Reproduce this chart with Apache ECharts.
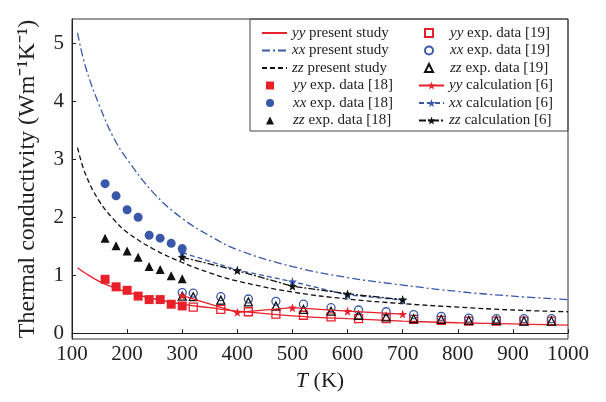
<!DOCTYPE html>
<html>
<head>
<meta charset="utf-8">
<script src="https://cdn.jsdelivr.net/npm/echarts@6/dist/echarts.min.js"></script>
<style>html,body{margin:0;padding:0;background:#fff}#c{width:606px;height:402px}</style>
</head>
<body>
<div id="c"></div>
<script>
// ---- data ----
const presentT = [110,125,150,175,200,250,300,350,400,500,600,700,800,900,1000];
const yyPresent = [1.13,1.03,0.89,0.79,0.71,0.59,0.50,0.44,0.38,0.30,0.25,0.21,0.18,0.16,0.14];
const xxPresent = [5.18,4.58,3.92,3.38,3.00,2.40,1.98,1.68,1.44,1.15,0.96,0.83,0.72,0.64,0.58];
const zzPresent = [3.20,2.73,2.27,1.97,1.74,1.44,1.22,1.04,0.90,0.71,0.59,0.51,0.45,0.40,0.37];

const exp18T = [160,180,200,220,240,260,280,300];
const yyExp18 = [0.93,0.80,0.74,0.64,0.58,0.58,0.50,0.47];
const xxExp18 = [2.58,2.37,2.13,2.00,1.69,1.64,1.55,1.46];
const zzExp18 = [1.64,1.51,1.42,1.31,1.15,1.10,0.99,0.94];

const exp19T = [300,320,370,420,470,520,570,620,670,720,770,820,870,920,970];
const yyExp19T = [320,370,420,470,520,570,620,670,720,770,820,870,920,970];
const yyExp19 = [0.45,0.41,0.37,0.33,0.31,0.28,0.25,0.25,0.24,0.22,0.21,0.21,0.21,0.21];
const xxExp19 = [0.70,0.69,0.63,0.59,0.55,0.50,0.44,0.40,0.37,0.32,0.29,0.26,0.25,0.25,0.25];
const zzExp19 = [0.64,0.63,0.57,0.54,0.47,0.41,0.38,0.31,0.28,0.25,0.24,0.22,0.22,0.21,0.21];

const calcT = [300,400,500,600,700];
const yyCalc = [0.65,0.36,0.44,0.38,0.33];
const xxCalc = [1.39,1.09,0.89,0.66,0.57];
const zzCalc = [1.31,1.08,0.81,0.68,0.58];

const xTicks = [100,200,300,400,500,600,700,800,900,1000];
const yTicks = [0,1,2,3,4,5];

// ---- styling ----
const RED = '#e8202a', BLUE = '#3a58aa', BLACK = '#111';
const FONT = 'Liberation Serif';
const STAR = 'path://M0,-10L2.35,-3.24L9.51,-3.09L3.8,1.24L5.88,8.09L0,4L-5.88,8.09L-3.8,1.24L-9.51,-3.09L-2.35,-3.24Z';
const pairs = (xs, ys) => xs.map((x, i) => [x, ys[i]]);

function lineSeries(name, xs, ys, color, type, z) {
  return { name, type: 'line', data: pairs(xs, ys), smooth: 0.4, symbol: 'none', z: z || 2,
    lineStyle: { color, width: 1.3, type }, itemStyle: { color } };
}
function scatterSeries(name, xs, ys, symbol, size, color, hollow, z) {
  return { name, type: 'scatter', data: pairs(xs, ys), symbol, symbolSize: size, z: z || 3,
    itemStyle: hollow ? { color: 'rgba(255,255,255,0)', borderColor: color, borderWidth: 1.3, opacity: 1 }
                      : { color, opacity: 1 } };
}
function calcSeries(name, xs, ys, color, type) {
  return { name, type: 'line', data: pairs(xs, ys), symbol: STAR, symbolSize: 9, z: 4,
    lineStyle: { color, width: 1.3, type }, itemStyle: { color } };
}

const linesCol1 = ['yy present study','xx present study','zz present study'];
const scatCol1 = ['yy exp. data [18]','xx exp. data [18]','zz exp. data [18]'];
const scatCol2 = ['yy exp. data [19]','xx exp. data [19]','zz exp. data [19]'];
const calcCol2 = ['yy calculation [6]','xx calculation [6]','zz calculation [6]'];

function makeLegend(names, left, top, iw, ih, spacer, hideSymbol) {
  return {
    orient: 'vertical', left, top, padding: 0, itemGap: 1.5, itemWidth: iw, itemHeight: ih,
    data: names.map(n => hideSymbol ? { name: n, itemStyle: { opacity: 0 } } : { name: n }),
    textStyle: { fontFamily: FONT, fontSize: 15, color: '#222', lineHeight: 16,
      rich: { i: { fontFamily: FONT, fontSize: 15, fontStyle: 'italic', color: '#222' },
              s: { width: spacer } } },
    formatter: n => { const p = n.split(' '); return (spacer ? '{s|}' : '') + '{i|' + p[0] + '} ' + p.slice(1).join(' '); }
  };
}

const chart = echarts.init(document.getElementById('c'), null, { renderer: 'canvas' });
chart.setOption({
  animation: false,
  backgroundColor: '#fff',
  grid: { left: 72, right: 38, top: 19, bottom: 63, show: true, borderColor: '#333', borderWidth: 1, backgroundColor: 'transparent' },
  legend: [
    makeLegend(linesCol1, 261, 25, 25, 10, 0, true),
    makeLegend(scatCol1, 266, 77.5, 8, 8, 14, false),
    makeLegend(scatCol2, 424, 25, 8, 8, 12, false),
    makeLegend(calcCol2, 418, 77.5, 25, 10, 0, false)
  ],
  graphic: [{ type: 'rect', z: 100, shape: { x: 250, y: 19, width: 318, height: 112 },
    style: { fill: 'none', stroke: '#444', lineWidth: 1 } }],
  xAxis: {
    type: 'value', min: 100, max: 1000, interval: 100,
    name: '{i|T} (K)', nameLocation: 'middle', nameGap: 31,
    nameTextStyle: { fontFamily: FONT, fontSize: 22, color: '#222',
      rich: { i: { fontFamily: FONT, fontSize: 22, fontStyle: 'italic', color: '#222' } } },
    axisLine: { lineStyle: { color: '#222', width: 1 } },
    axisTick: { inside: true, length: 4, lineStyle: { color: '#222' }, customValues: xTicks },
    axisLabel: { fontFamily: FONT, fontSize: 21, color: '#222', margin: 5, customValues: xTicks,
      formatter: v => String(v) },
    splitLine: { show: false }
  },
  yAxis: {
    type: 'value', min: -0.1, max: 5.42,
    name: 'Thermal conductivity (Wm\u207B\u00B9K\u207B\u00B9)', nameLocation: 'middle', nameGap: 32, nameRotate: 90,
    nameTextStyle: { fontFamily: FONT, fontSize: 24, color: '#222' },
    axisLine: { show: true, lineStyle: { color: '#222', width: 1 } },
    axisTick: { show: true, inside: true, length: 4, lineStyle: { color: '#222' }, customValues: yTicks },
    axisLabel: { fontFamily: FONT, fontSize: 21, color: '#222', margin: 8, customValues: yTicks,
      formatter: v => String(v) },
    splitLine: { show: false }
  },
  series: [
    lineSeries('yy present study', presentT, yyPresent, RED, 'solid'),
    lineSeries('xx present study', presentT, xxPresent, BLUE, [8, 3, 2, 3]),
    lineSeries('zz present study', presentT, zzPresent, BLACK, [5, 3]),
    scatterSeries('yy exp. data [18]', exp18T, yyExp18, 'rect', 9, RED, false),
    scatterSeries('xx exp. data [18]', exp18T, xxExp18, 'circle', 9, BLUE, false),
    scatterSeries('zz exp. data [18]', exp18T, zzExp18, 'triangle', 9, BLACK, false),
    scatterSeries('yy exp. data [19]', yyExp19T, yyExp19, 'rect', 8, RED, true, 3),
    scatterSeries('xx exp. data [19]', exp19T, xxExp19, 'circle', 8, BLUE, true, 3),
    scatterSeries('zz exp. data [19]', exp19T, zzExp19, 'triangle', 8, BLACK, true, 3),
    calcSeries('yy calculation [6]', calcT, yyCalc, RED, 'solid'),
    calcSeries('xx calculation [6]', calcT, xxCalc, BLUE, [5, 3]),
    calcSeries('zz calculation [6]', calcT, zzCalc, BLACK, [7, 2, 2, 2])
  ]
});
</script>
</body>
</html>
